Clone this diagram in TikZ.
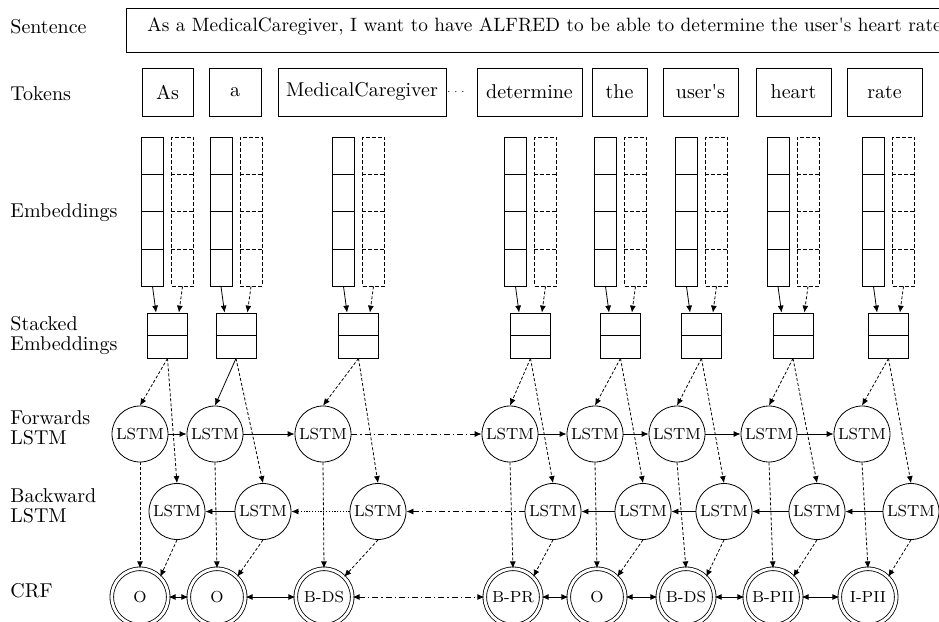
\documentclass[tikz,border=0pt]{standalone}
\usetikzlibrary{arrows.meta,calc}
\begin{document}
\begin{tikzpicture}[x=0.5pt,y=-0.5pt,
  lbl/.style={anchor=west,align=left,inner sep=0pt},
  tok/.style={draw,minimum height=24pt,inner sep=0pt},
  emb/.style={draw,minimum width=11pt,minimum height=74.5pt,inner sep=0pt},
  embd/.style={emb,dash pattern=on 2pt off 1pt},
  stk/.style={draw,minimum width=20pt,minimum height=22.5pt,inner sep=0pt},
  lstm/.style={draw,circle,minimum size=28pt,inner sep=0pt,font=\footnotesize},
  crf/.style={draw,circle,double,double distance=1.4pt,minimum size=28.2pt,inner sep=0pt,font=\footnotesize},
  tip/.style={-{Latex[length=3.5pt,width=3pt]}},
  dtip/.style={{Latex[length=3.5pt,width=3pt]}-{Latex[length=3.5pt,width=3pt]}},
  fine/.style={dash pattern=on 1.5pt off 1pt},
  dotsl/.style={dash pattern=on 0.6pt off 0.8pt},
  dashdot/.style={dash pattern=on 3pt off 1.5pt on 0.6pt off 1.5pt},
]
\useasboundingbox (0,0) rectangle (939,622);

% row labels
\node[lbl] (lsent) at (10,27) {Sentence};
\node[lbl] (ltok) at (10,94) {Tokens};
\node[lbl] (lemb) at (10,213) {Embeddings};
\node[lbl] (lstk) at (10,336) {Stacked\\[-2pt]Embeddings};
\node[lbl] (lfwd) at (10,428) {Forwards\\[-2pt]LSTM};
\node[lbl] (lbwd) at (10,506) {Backward\\[-2pt]LSTM};
\node[lbl] (lcrf) at (10,591) {CRF};

% sentence
\node[draw,anchor=north west,minimum width=420pt,minimum height=22pt,inner sep=0pt] (sbox) at (126,8) {};
\node[anchor=base west,inner sep=0pt,font=\fontsize{9.65pt}{11pt}\selectfont] (stext) at (147,31) {As a MedicalCaregiver, I want to have ALFRED to be able to determine the user\textquotesingle s heart rate};

% tokens
\node[tok,minimum width=25.5pt] (t1) at (167.5,92) {As};
\node[tok,minimum width=26pt] (t2) at (235,92) {a};
\node[tok,minimum width=84pt] (t3) at (362,92) {MedicalCaregiver};
\node[inner sep=0pt] (tdots) at (456,92) {\tiny$\cdots$};
\node[tok,minimum width=52.5pt] (t4) at (529.5,92) {determine};
\node[tok,minimum width=27.5pt] (t5) at (619.5,92) {the};
\node[tok,minimum width=37.5pt] (t6) at (700.5,92) {user\textquotesingle s};
\node[tok,minimum width=37.5pt] (t7) at (793.5,92) {heart};
\node[tok,minimum width=37.5pt] (t8) at (884.5,92) {rate};

% embeddings and stacked embeddings
\foreach \i/\g in {1/167.5,2/236,3/358.5,4/530.5,5/620.5,6/701.5,7/793,8/888.5}{
  \node[emb] (es\i) at (\g-15,211.5) {};
  \node[embd] (ed\i) at (\g+15,211.5) {};
  \foreach \k in {0.25,0.5,0.75}{
    \draw ($(es\i.north west)!\k!(es\i.south west)$) -- ($(es\i.north east)!\k!(es\i.south east)$);
    \draw[dash pattern=on 2pt off 1pt] ($(ed\i.north west)!\k!(ed\i.south west)$) -- ($(ed\i.north east)!\k!(ed\i.south east)$);
  }
  \node[stk] (s\i) at (\g,335.5) {};
  \draw (s\i.west) -- (s\i.east);
  \draw[tip] (es\i.south) -- ($(s\i.north west)!0.22!(s\i.north east)$);
  \draw[tip,fine] (ed\i.south) -- ($(s\i.north west)!0.78!(s\i.north east)$);
}

% LSTM layers and CRF
\foreach \i/\x in {1/140,2/215,3/323,4/510,5/595,6/677,7/769,8/862}
  \node[lstm] (f\i) at (\x,434) {LSTM};
\foreach \i/\x in {1/177,2/263,3/378,4/553,5/643,6/724,7/817,8/911}
  \node[lstm] (b\i) at (\x,511.5) {LSTM};
\foreach \i/\x/\t in {1/140/O,2/217/O,3/324/B-DS,4/513/B-PR,5/597/O,6/686/B-DS,7/773/B-PII,8/868/I-PII}
  \node[crf] (c\i) at (\x,597) {\t};

% stacked -> LSTM
\foreach \i in {1,3,4,5,6,7,8}
  \draw[tip,fine] (s\i.south) -- (f\i.north);
\draw[tip] (s2.south) -- (f2.north);
\foreach \i in {1,...,8}{
  \draw[tip,fine] (s\i.south) -- (b\i.north);
  \draw[tip,fine] (f\i.south) -- (c\i.north);
  \draw[tip,fine] (b\i.south) -- (c\i.north east);
}

% forward chain
\draw[tip] (f1) -- (f2);
\draw[tip] (f2) -- (f3);
\draw[tip,dashdot] (f3) -- (f4);
\draw[tip] (f4) -- (f5);
\draw[tip] (f5) -- (f6);
\draw[tip] (f6) -- (f7);
\draw[tip] (f7) -- (f8);

% backward chain
\draw[tip] (b2) -- (b1);
\draw[tip,dotsl] (b3) -- (b2);
\draw[tip,dashdot] (b4) -- (b3);
\draw[tip] (b5) -- (b4);
\draw[tip] (b6) -- (b5);
\draw[tip] (b7) -- (b6);
\draw[tip] (b8) -- (b7);

% CRF chain
\draw[dtip] (c1) -- (c2);
\draw[dtip] (c2) -- (c3);
\draw[dtip,dashdot] (c3) -- (c4);
\draw[dtip] (c4) -- (c5);
\draw[dtip] (c5) -- (c6);
\draw[dtip] (c6) -- (c7);
\draw[dtip] (c7) -- (c8);
\end{tikzpicture}
\end{document}
